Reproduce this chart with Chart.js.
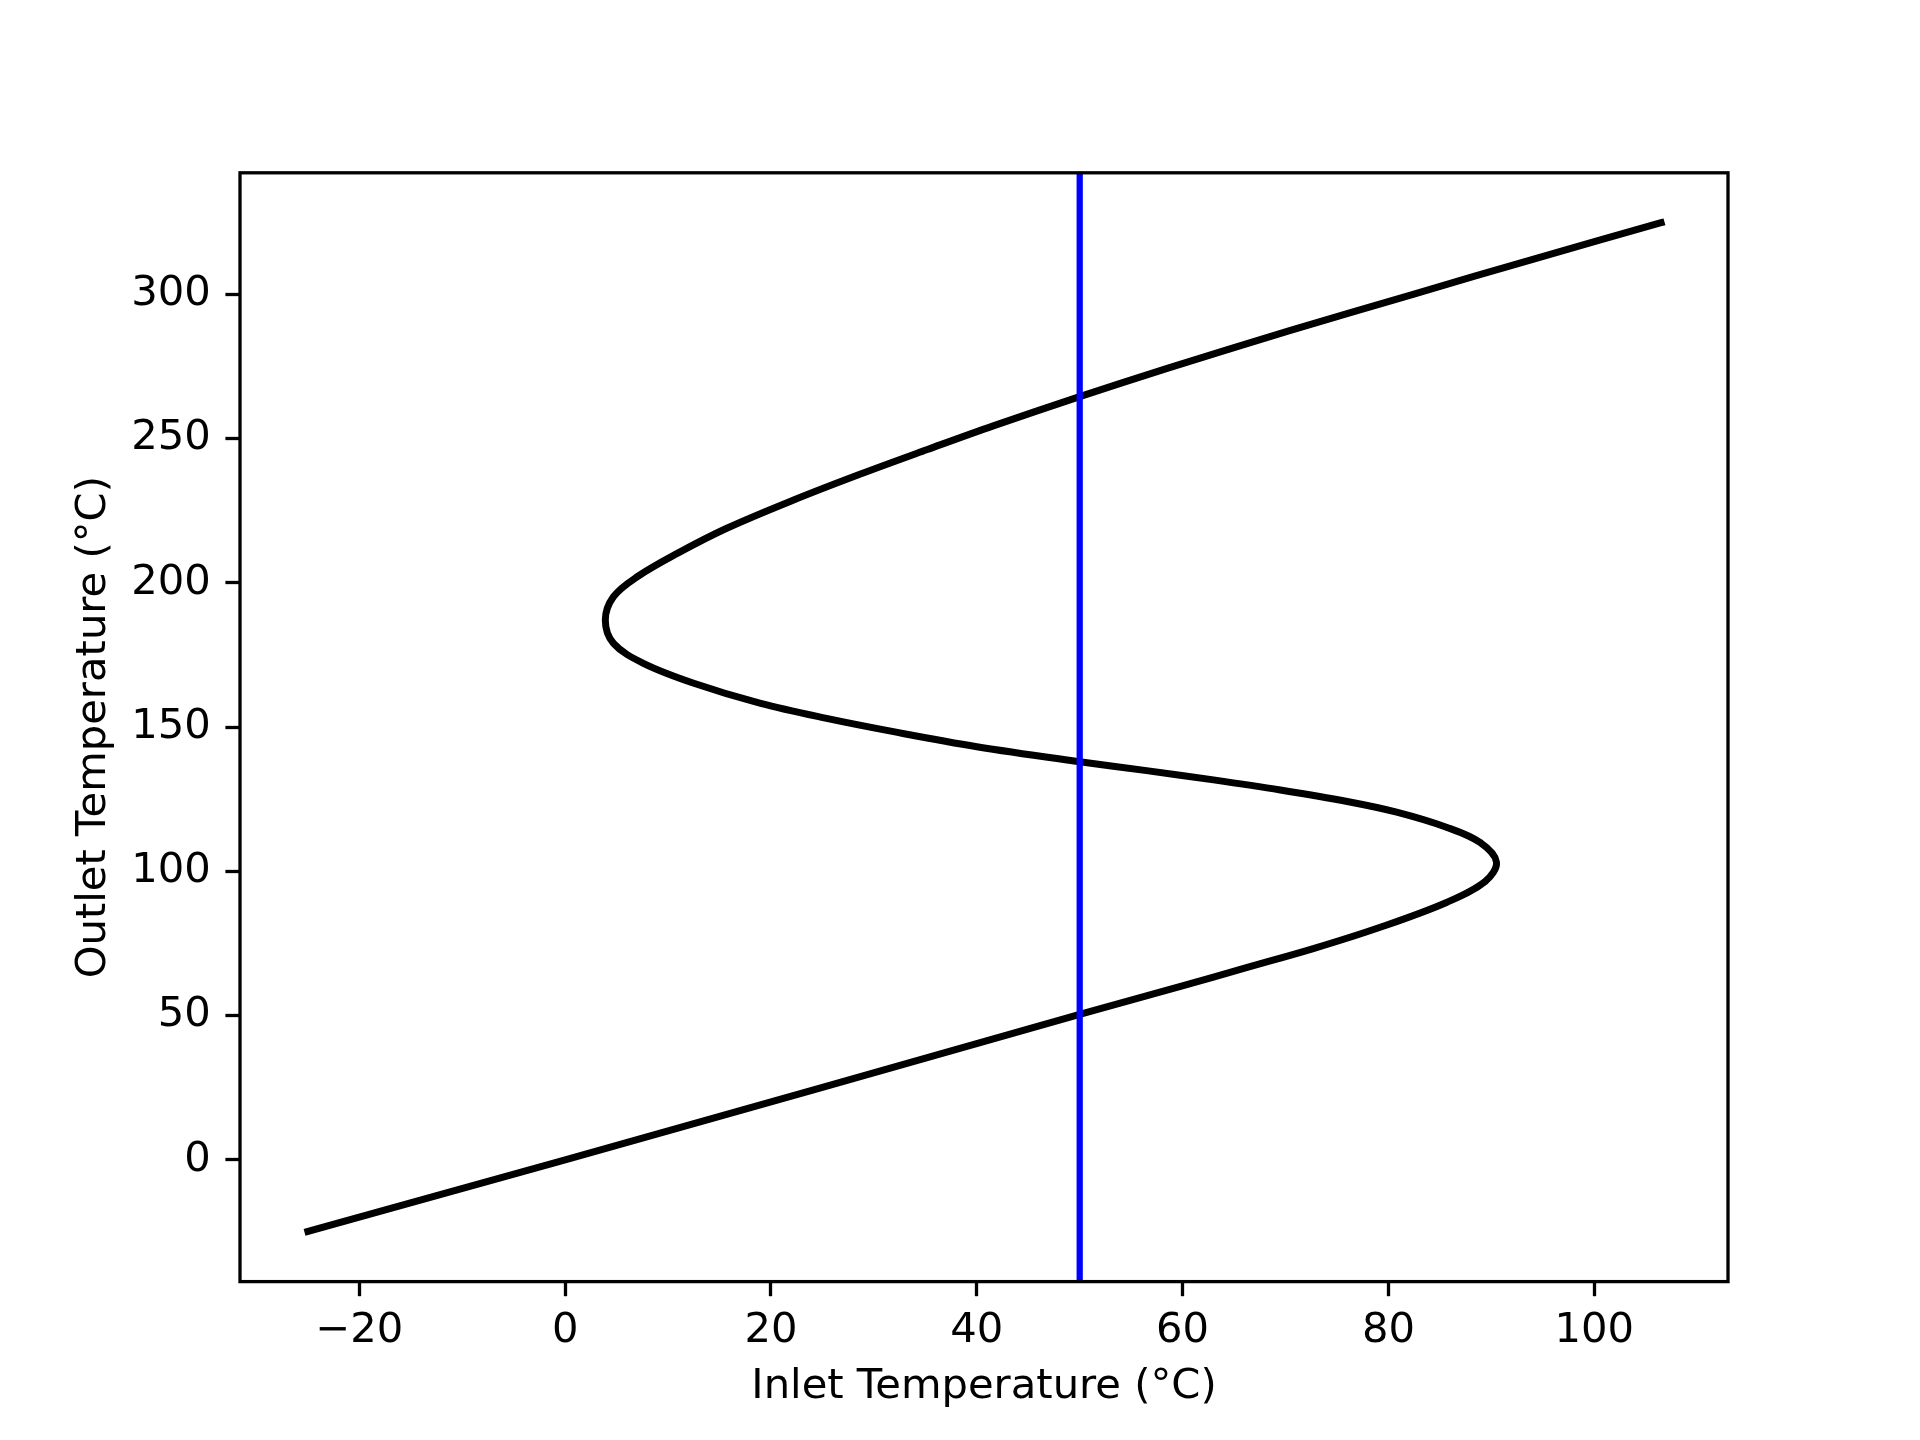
<!DOCTYPE html>
<html>
<head>
<meta charset="utf-8">
<title>Outlet vs Inlet Temperature</title>
<script src="https://cdn.jsdelivr.net/npm/chart.js@4.4.1/dist/chart.umd.min.js"></script>
<style>
  html, body { margin: 0; padding: 0; background: #ffffff; }
  #wrap { width: 1920px; height: 1440px; }
</style>
</head>
<body>
<div id="wrap"><canvas id="chart" width="1920" height="1440"></canvas></div>
<script>
const outletTemps = [-24.8, 0, 25.1, 50.4, 60.1, 66.6, 73.2, 80.6, 89.3, 96.5, 103.2, 110.0, 115.2, 120.5,
    124.2, 128.2, 131.7, 134.9, 138.0, 143.2, 148.4, 153.0, 158.2, 165.2, 172.1, 179.0, 187.1, 195.2,
    202.1, 210.2, 218.9, 228.7, 237.7, 246.2, 254.4, 264.5, 274.3, 287.4, 300.0, 312.3, 324.8];
const inletTemps = [-25.0, 0, 25.0, 50.0, 59.8, 66.2, 72.7, 79.2, 85.7, 89.4, 90.5, 88.9, 85.7, 80.8,
    76.0, 69.5, 63.0, 56.5, 50.0, 40.0, 31.9, 25.4, 19.0, 12.5, 7.6, 4.7, 3.9, 4.7,
    7.0, 10.9, 15.7, 22.2, 28.7, 35.2, 41.6, 50.0, 58.5, 70.4, 82.4, 94.2, 106.5];

// vertical marker at the chosen inlet temperature
const markerInlet = 50;

const xLimits = [-31.6, 113.0];
const yLimits = [-42.2, 342.1];
const xTickValues = [-20, 0, 20, 40, 60, 80, 100];
const yTickValues = [0, 50, 100, 150, 200, 250, 300];

const curvePoints = outletTemps.map((t, i) => ({ x: inletTemps[i], y: t }));
const markerPoints = [{ x: markerInlet, y: yLimits[0] }, { x: markerInlet, y: yLimits[1] }];

const FONT = { family: '"DejaVu Sans", sans-serif', size: 41.7 };
const fmt = v => (v < 0 ? '\u2212' + Math.abs(v) : String(v));

const framePlugin = {
    id: 'frame',
    afterDatasetsDraw(chart) {
        const a = chart.chartArea;
        const ctx = chart.ctx;
        ctx.save();
        ctx.strokeStyle = '#000000';
        ctx.lineWidth = 3.3;
        ctx.strokeRect(a.left, a.top, a.right - a.left, a.bottom - a.top);
        ctx.restore();
    }
};

const axisGrid = { drawOnChartArea: false, drawTicks: true, tickLength: 14.6, tickWidth: 3.3, tickColor: '#000000' };

new Chart(document.getElementById('chart'), {
    type: 'scatter',
    data: {
        datasets: [
            {
                data: markerPoints,
                showLine: true,
                borderColor: '#0000ff',
                borderWidth: 6.25,
                pointRadius: 0,
                order: 0
            },
            {
                data: curvePoints,
                showLine: true,
                borderColor: '#000000',
                borderWidth: 7,
                borderCapStyle: 'square',
                borderJoinStyle: 'round',
                tension: 0.35,
                pointRadius: 0,
                order: 1
            }
        ]
    },
    options: {
        responsive: false,
        devicePixelRatio: 1,
        animation: false,
        layout: { padding: { top: 172.8, right: 192, left: 0, bottom: 0 } },
        plugins: { legend: { display: false }, tooltip: { enabled: false } },
        scales: {
            x: {
                type: 'linear',
                min: xLimits[0],
                max: xLimits[1],
                afterBuildTicks: s => { s.ticks = xTickValues.map(v => ({ value: v })); },
                afterFit: s => { s.height = 158.4; },
                grid: axisGrid,
                border: { display: false },
                ticks: { color: '#000000', font: FONT, padding: 10, maxRotation: 0, callback: fmt },
                title: {
                    display: true,
                    text: 'Inlet Temperature (°C)',
                    color: '#000000',
                    font: FONT,
                    padding: { top: 0, bottom: 27.5 }
                }
            },
            y: {
                type: 'linear',
                min: yLimits[0],
                max: yLimits[1],
                afterBuildTicks: s => { s.ticks = yTickValues.map(v => ({ value: v })); },
                afterFit: s => { s.width = 240; },
                grid: axisGrid,
                border: { display: false },
                ticks: { color: '#000000', font: FONT, padding: 14.6, callback: fmt },
                title: {
                    display: true,
                    text: 'Outlet Temperature (°C)',
                    color: '#000000',
                    font: FONT,
                    padding: { top: 69, bottom: 0 }
                }
            }
        }
    },
    plugins: [framePlugin]
});
</script>
</body>
</html>
